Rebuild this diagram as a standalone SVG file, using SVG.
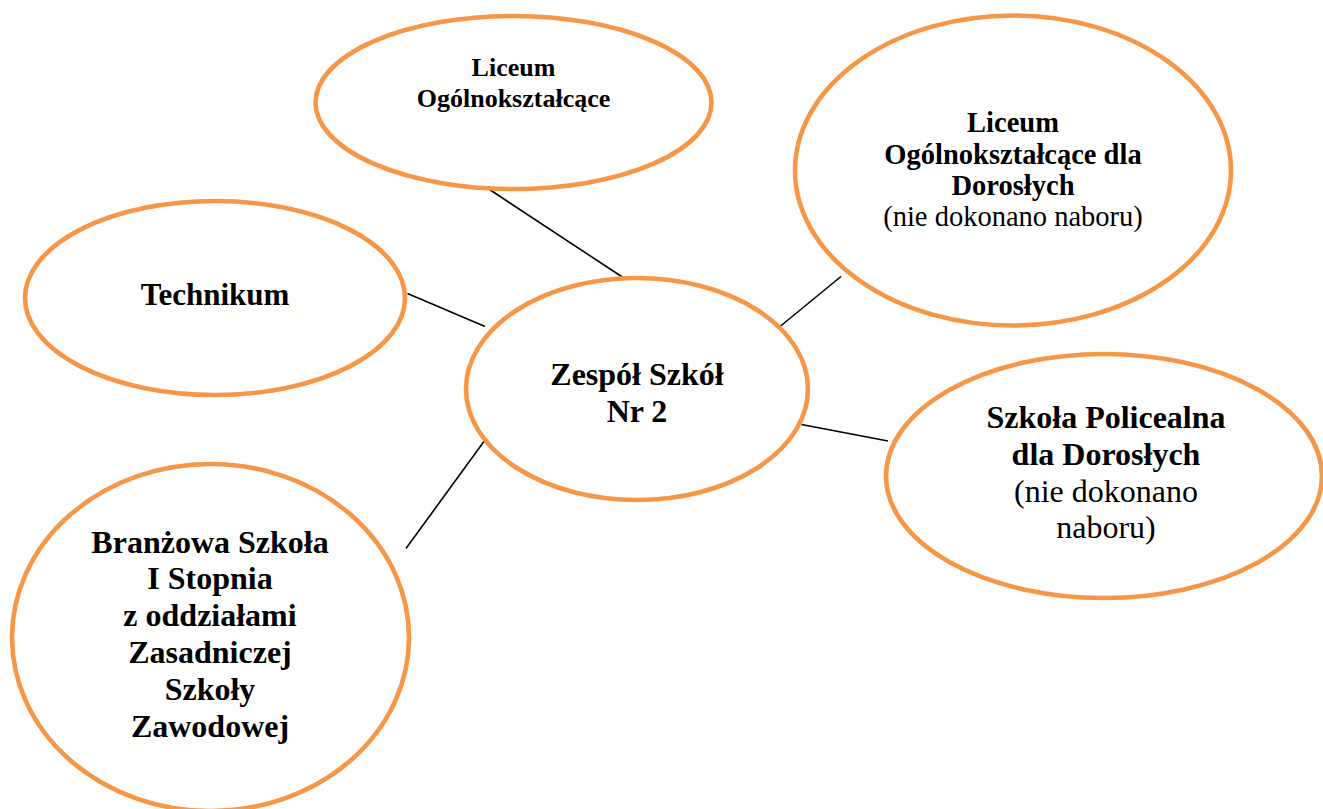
<svg xmlns="http://www.w3.org/2000/svg" width="1323" height="809" viewBox="0 0 1323 809">
<style>
.node{fill:#FFFFFF;stroke:#F79646;stroke-width:4.6}
.edge{stroke:#000000;stroke-width:1.6;fill:none}
text{font-family:"Liberation Serif","Times New Roman",serif;fill:#000000;text-anchor:middle}
.b{font-weight:bold}
</style>
<rect width="1323" height="809" fill="#FFFFFF"/>
<g id="connectors">
<line class="edge" x1="488" y1="188.5" x2="624.5" y2="278.5"/>
<line class="edge" x1="407.5" y1="293.5" x2="485" y2="326.5"/>
<line class="edge" x1="780" y1="326.5" x2="841" y2="276.5"/>
<line class="edge" x1="801.5" y1="424.5" x2="888" y2="441"/>
<line class="edge" x1="485" y1="440" x2="406" y2="548.5"/>
</g>
<g id="node-lo">
<ellipse class="node" cx="513.5" cy="102.5" rx="198" ry="86.5"/>
<text class="b" font-size="26" x="513.5" y="76">Liceum</text>
<text class="b" font-size="26" x="513.5" y="107">Ogólnokształcące</text>
</g>
<g id="node-lod">
<ellipse class="node" cx="1013" cy="170.5" rx="218" ry="155"/>
<text class="b" font-size="28.5" x="1013" y="132">Liceum</text>
<text class="b" font-size="28.5" x="1013" y="163.5">Ogólnokształcące dla</text>
<text class="b" font-size="28.5" x="1013" y="195">Dorosłych</text>
<text font-size="28.5" x="1013" y="226">(nie dokonano naboru)</text>
</g>
<g id="node-tech">
<ellipse class="node" cx="215" cy="298" rx="190" ry="97"/>
<text class="b" font-size="31" x="215" y="305">Technikum</text>
</g>
<g id="node-zs">
<ellipse class="node" cx="637" cy="389" rx="171" ry="111"/>
<text class="b" font-size="32" x="637" y="385">Zespół Szkół</text>
<text class="b" font-size="32" x="637" y="422">Nr 2</text>
</g>
<g id="node-sp">
<ellipse class="node" cx="1104" cy="476" rx="218" ry="122"/>
<text class="b" font-size="32" x="1106" y="428">Szkoła Policealna</text>
<text class="b" font-size="32" x="1106" y="465">dla Dorosłych</text>
<text font-size="32" x="1106" y="502">(nie dokonano</text>
<text font-size="32" x="1106" y="538">naboru)</text>
</g>
<g id="node-bs">
<ellipse class="node" cx="210.5" cy="637.5" rx="198.5" ry="173.5"/>
<text class="b" font-size="32" x="210" y="553">Branżowa Szkoła</text>
<text class="b" font-size="32" x="210" y="589">I Stopnia</text>
<text class="b" font-size="32" x="210" y="626">z oddziałami</text>
<text class="b" font-size="32" x="210" y="663">Zasadniczej</text>
<text class="b" font-size="32" x="210" y="700">Szkoły</text>
<text class="b" font-size="32" x="210" y="737">Zawodowej</text>
</g>
</svg>
